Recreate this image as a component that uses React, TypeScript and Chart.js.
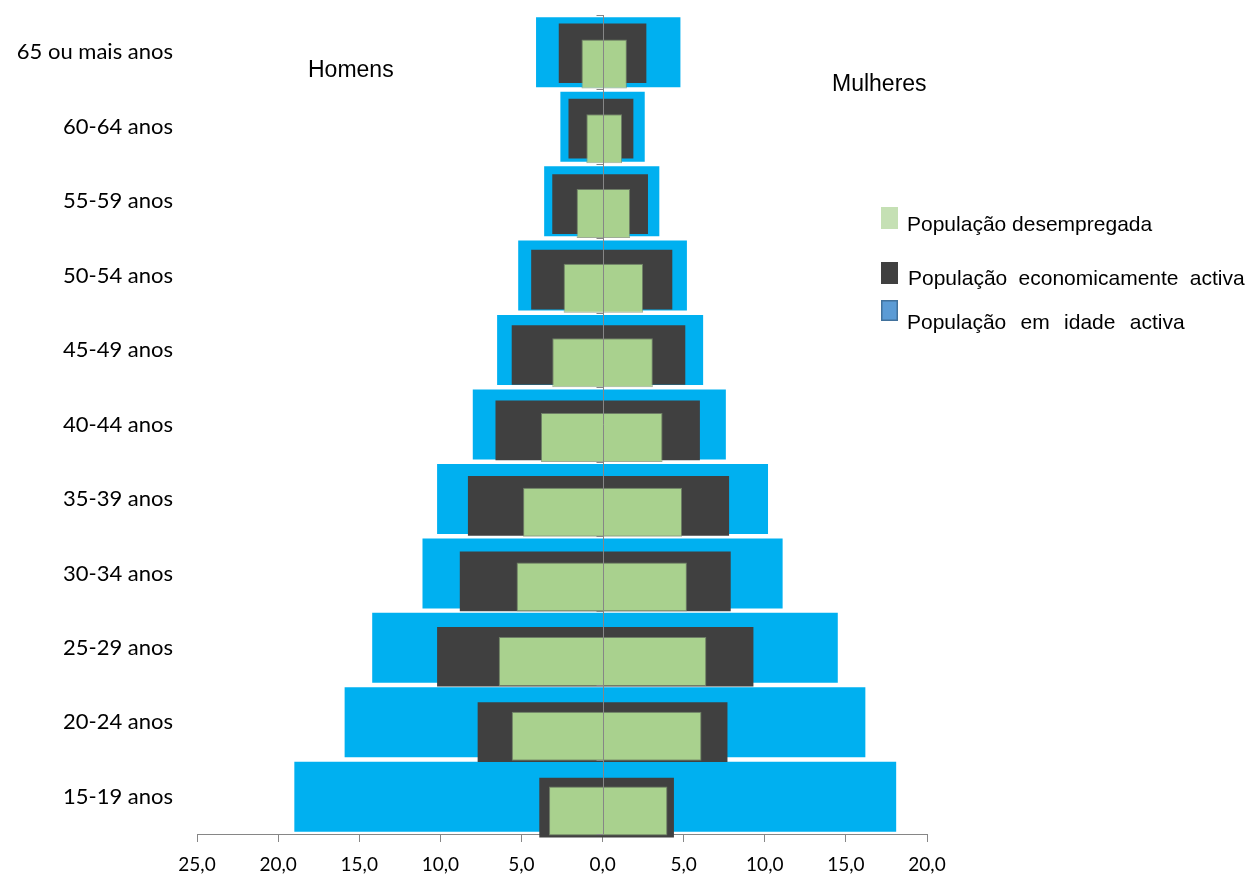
import { useEffect, useRef } from "react";
import { Chart, registerables } from "chart.js";

Chart.register(...registerables);

// ---- data (bottom → top) ----
const ageGroups = [
  "15-19 anos",
  "20-24 anos",
  "25-29 anos",
  "30-34 anos",
  "35-39 anos",
  "40-44 anos",
  "45-49 anos",
  "50-54 anos",
  "55-59 anos",
  "60-64 anos",
  "65 ou mais anos",
];
const idadeActivaHomens = [19.0, 15.9, 14.2, 11.1, 10.2, 8.0, 6.5, 5.2, 3.6, 2.6, 4.1];
const idadeActivaMulheres = [18.1, 16.2, 14.5, 11.1, 10.2, 7.6, 6.2, 5.2, 3.5, 2.6, 4.8];
const economicamenteActivaHomens = [3.9, 7.7, 10.2, 8.8, 8.3, 6.6, 5.6, 4.4, 3.1, 2.1, 2.7];
const economicamenteActivaMulheres = [4.4, 7.7, 9.3, 7.9, 7.8, 6.0, 5.1, 4.3, 2.8, 1.9, 2.7];
const desempregadaHomens = [3.3, 5.6, 6.4, 5.3, 4.9, 3.8, 3.1, 2.4, 1.6, 1.0, 1.3];
const desempregadaMulheres = [4.0, 6.1, 6.4, 5.2, 4.9, 3.7, 3.1, 2.5, 1.7, 1.2, 1.5];

const xMin = -25;
const xMax = 20;
const xStep = 5;

const seriesLabels = [
  "População desempregada",
  "População economicamente activa",
  "População em idade activa",
];
const sideLabels = ["Homens", "Mulheres"];

// ---- styles ----
const barColors = ["#A9D18E", "#404040", "#00B0F0"];
const legendColors = ["#C5E0B4", "#404040", "#5B9BD5"];
const legendBorders = ["#C5E0B4", "#404040", "#41719C"];
const axisGray = "#868686";

const fmt = (v: number) => Math.abs(v).toFixed(1).replace(".", ",");

const decorPlugin = {
  id: "decor",
  afterDatasetsDraw(chart: any) {
    const { ctx, chartArea } = chart;
    const xs = chart.scales.x;
    const ys = chart.scales.y;
    const x0 = Math.round(xs.getPixelForValue(0)) + 0.5;
    ctx.save();
    ctx.strokeStyle = axisGray;
    ctx.lineWidth = 1;
    ctx.beginPath();
    ctx.moveTo(x0, chartArea.top);
    ctx.lineTo(x0, chartArea.bottom);
    for (let i = 0; i <= ageGroups.length; i++) {
      const y = Math.round(ys.getPixelForValue(i - 0.5)) + 0.5;
      ctx.moveTo(x0 - 7, y);
      ctx.lineTo(x0, y);
    }
    ctx.stroke();
    ctx.restore();
  },
  afterDraw(chart: any) {
    const { ctx } = chart;
    ctx.save();
    ctx.fillStyle = "#000";
    ctx.textBaseline = "alphabetic";
    ctx.textAlign = "left";
    ctx.font = '23px "Liberation Sans", Arial, sans-serif';
    ctx.fillText(sideLabels[0], 308, 77);
    ctx.fillText(sideLabels[1], 832, 91);

    // legend
    const items = [
      { box: [881, 207, 17, 22], tx: 907, ty: 231, gap: 0 },
      { box: [881, 262, 17, 22], tx: 908, ty: 285, gap: 5.5 },
      { box: [881, 300, 17, 21], tx: 907, ty: 329, gap: 8.5 },
    ];
    ctx.font = '21px "Liberation Sans", Arial, sans-serif';
    items.forEach((it, i) => {
      const [bx, by, bw, bh] = it.box;
      ctx.fillStyle = legendColors[i];
      ctx.fillRect(bx, by, bw, bh);
      ctx.strokeStyle = legendBorders[i];
      ctx.lineWidth = 1.5;
      ctx.strokeRect(bx + 0.75, by + 0.75, bw - 1.5, bh - 1.5);
      ctx.fillStyle = "#000";
      let x = it.tx;
      const words = seriesLabels[i].split(" ");
      const sp = ctx.measureText(" ").width + it.gap;
      words.forEach((w) => {
        ctx.fillText(w, x, it.ty);
        x += ctx.measureText(w).width + sp;
      });
    });
    ctx.restore();
  },
};

const integerTicks = (scale: any) => {
  scale.ticks = ageGroups.map((_, i) => ({ value: i }));
};

export default function App() {
  const ref = useRef<HTMLCanvasElement>(null);
  useEffect(() => {
    const chart = new Chart(ref.current as HTMLCanvasElement, {
      type: "bar",
      data: {
        labels: ageGroups,
        datasets: [
          {
            label: seriesLabels[0],
            data: desempregadaHomens.map((m, i) => ({ x: [-m, desempregadaMulheres[i]], y: i })) as any,
            yAxisID: "yDesemp",
            backgroundColor: barColors[0],
            borderColor: "rgba(125,145,115,0.75)",
            borderWidth: 1,
            borderSkipped: false,
            categoryPercentage: 1,
            barPercentage: 0.656,
            grouped: false,
            clip: false,
          },
          {
            label: seriesLabels[1],
            data: economicamenteActivaHomens.map((m, i) => ({ x: [-m, economicamenteActivaMulheres[i]], y: i })) as any,
            yAxisID: "yEcon",
            backgroundColor: barColors[1],
            borderWidth: 0,
            categoryPercentage: 1,
            barPercentage: 0.791,
            grouped: false,
            clip: false,
          },
          {
            label: seriesLabels[2],
            data: idadeActivaHomens.map((m, i) => [-m, idadeActivaMulheres[i]]) as any,
            yAxisID: "y",
            backgroundColor: barColors[2],
            borderWidth: 0,
            categoryPercentage: 1,
            barPercentage: 0.94,
            grouped: false,
          },
        ],
      },
      options: {
        indexAxis: "y",
        animation: false,
        responsive: true,
        maintainAspectRatio: false,
        events: [],
        layout: { padding: { left: 0, right: 325, top: 15, bottom: 0 } },
        plugins: { legend: { display: false }, tooltip: { enabled: false } },
        scales: {
          x: {
            type: "linear",
            min: xMin,
            max: xMax,
            ticks: {
              stepSize: xStep,
              autoSkip: false,
              maxRotation: 0,
              callback: (v: any) => fmt(Number(v)),
              color: "#000",
              font: { family: "Lato", size: 19 },
              padding: 11,
            },
            grid: { drawOnChartArea: false, drawTicks: true, tickLength: 8, color: axisGray },
            border: { color: axisGray },
            afterFit: (s: any) => {
              s.height = 43;
              s.paddingLeft = 0;
              s.paddingRight = 0;
            },
          },
          y: {
            type: "category",
            labels: ageGroups,
            reverse: true,
            offset: true,
            grid: { display: false, drawTicks: false },
            border: { display: false },
            ticks: { padding: 24, color: "#000", font: { family: "Lato", size: 22 }, autoSkip: false },
            afterFit: (s: any) => {
              s.width = 197;
              s.paddingTop = 0;
              s.paddingBottom = 0;
            },
          },
          yEcon: {
            type: "linear",
            display: false,
            offset: false,
            min: -0.35,
            max: 10.507,
            afterBuildTicks: integerTicks,
          },
          yDesemp: {
            type: "linear",
            display: false,
            offset: false,
            min: -0.308,
            max: 10.657,
            afterBuildTicks: integerTicks,
          },
        },
      } as any,
      plugins: [decorPlugin],
    });
    return () => chart.destroy();
  }, []);
  return (
    <div style={{ position: "fixed", left: 0, top: 0, width: 1252, height: 877, background: "#fff" }}>
      <canvas ref={ref} />
    </div>
  );
}
